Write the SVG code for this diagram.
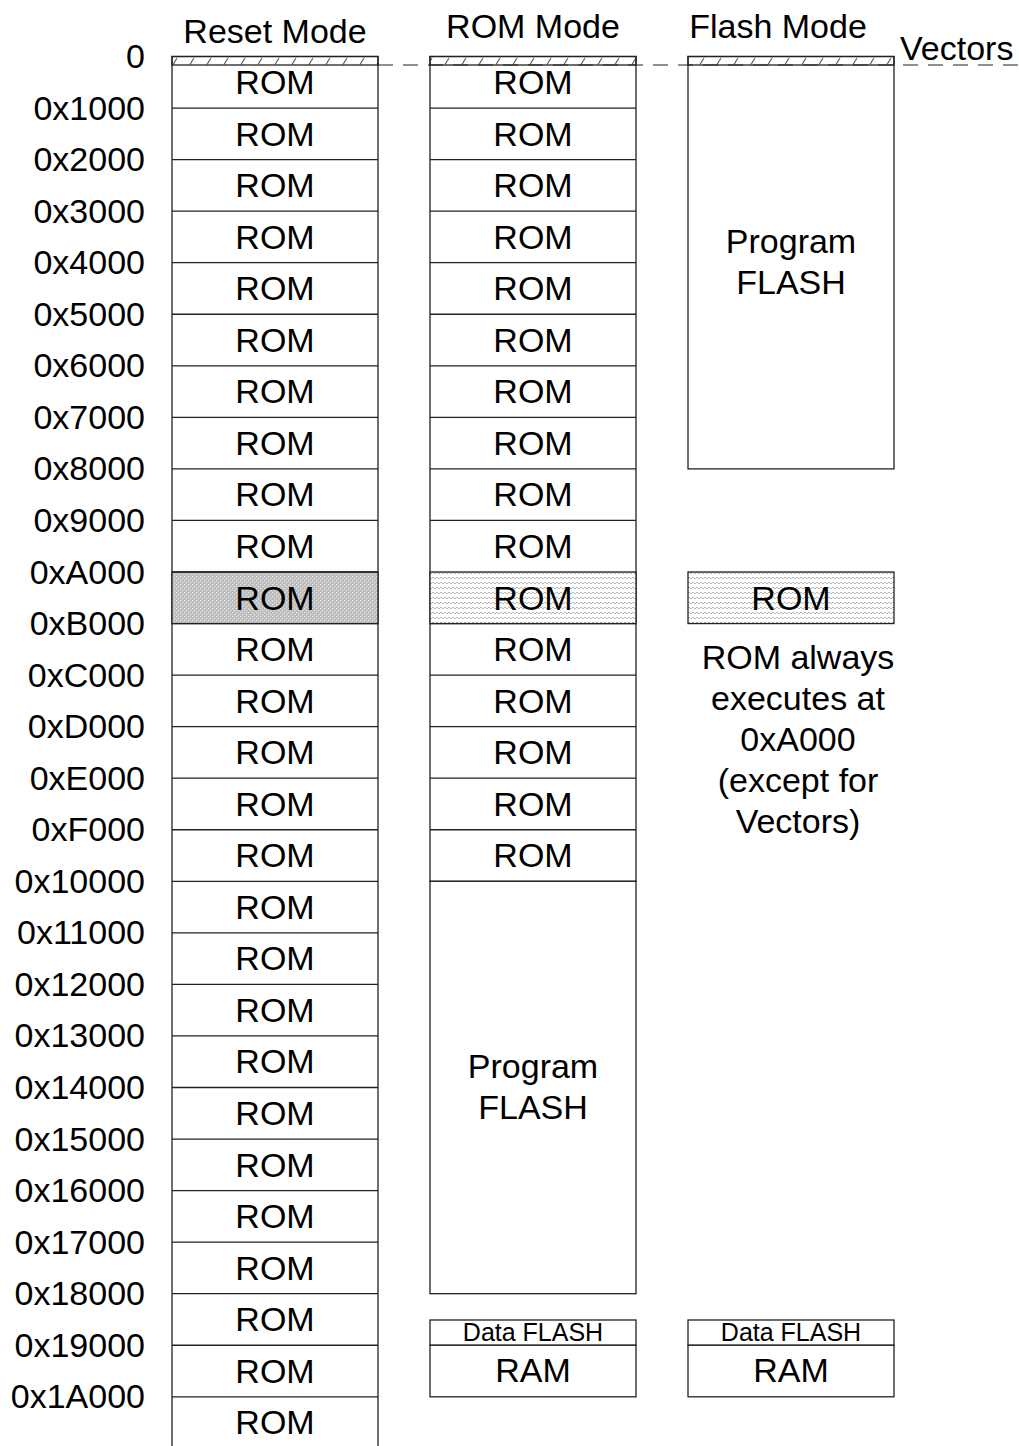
<svg xmlns="http://www.w3.org/2000/svg" width="1019" height="1446" viewBox="0 0 1019 1446">
<style>
text{font-family:"Liberation Sans",Arial,sans-serif;fill:#000}
.t{font-size:34px;text-anchor:middle}
.l{font-size:34px;text-anchor:end}
.s{font-size:25px;text-anchor:middle}
.b{fill:#fff;stroke:#222;stroke-width:1.3}
.ln{stroke:#222;stroke-width:1.3;fill:none}
</style>
<defs>
<pattern id="vec" width="17" height="9" patternUnits="userSpaceOnUse" x="0" y="56.5">
<path d="M3 8 L7 1.5" stroke="#222" stroke-width="1"/>
</pattern>
<pattern id="dots" width="4" height="4" patternUnits="userSpaceOnUse">
<rect width="4" height="4" fill="#bcbcbc"/>
<rect x="0" y="0" width="1.3" height="1.3" fill="#e6e6e6"/>
<rect x="2" y="2" width="1.3" height="1.3" fill="#e6e6e6"/>
</pattern>
<pattern id="wave" width="8" height="5" patternUnits="userSpaceOnUse">
<rect width="8" height="5" fill="#fff"/>
<path d="M0 3 Q1 1 2 3 T4 3 T6 3 T8 3" stroke="#999" stroke-width="0.7" fill="none"/>
</pattern>
</defs>

<g id="titles">
<text class="t" x="275" y="43">Reset Mode</text>
<text class="t" x="533" y="38">ROM Mode</text>
<text class="t" x="778" y="38">Flash Mode</text>
<text x="900" y="60" style="font-size:34px">Vectors</text>
</g>

<g id="addresses">
<text class="l" x="145" y="68">0</text>
<text class="l" x="145" y="119.5">0x1000</text>
<text class="l" x="145" y="171.1">0x2000</text>
<text class="l" x="145" y="222.6">0x3000</text>
<text class="l" x="145" y="274.2">0x4000</text>
<text class="l" x="145" y="325.7">0x5000</text>
<text class="l" x="145" y="377.3">0x6000</text>
<text class="l" x="145" y="428.8">0x7000</text>
<text class="l" x="145" y="480.4">0x8000</text>
<text class="l" x="145" y="531.9">0x9000</text>
<text class="l" x="145" y="583.5">0xA000</text>
<text class="l" x="145" y="635">0xB000</text>
<text class="l" x="145" y="686.6">0xC000</text>
<text class="l" x="145" y="738.1">0xD000</text>
<text class="l" x="145" y="789.7">0xE000</text>
<text class="l" x="145" y="841.2">0xF000</text>
<text class="l" x="145" y="892.8">0x10000</text>
<text class="l" x="145" y="944.3">0x11000</text>
<text class="l" x="145" y="995.9">0x12000</text>
<text class="l" x="145" y="1047.4">0x13000</text>
<text class="l" x="145" y="1099">0x14000</text>
<text class="l" x="145" y="1150.5">0x15000</text>
<text class="l" x="145" y="1202.1">0x16000</text>
<text class="l" x="145" y="1253.6">0x17000</text>
<text class="l" x="145" y="1305.2">0x18000</text>
<text class="l" x="145" y="1356.7">0x19000</text>
<text class="l" x="145" y="1408.3">0x1A000</text>
</g>

<g id="reset-mode">
<rect class="b" x="172" y="56.5" width="206" height="1400"/>
<rect x="172" y="572" width="206" height="51.55" fill="url(#dots)" stroke="#222" stroke-width="1.3"/>
<path class="ln" d="M172 108.05H378M172 159.6H378M172 211.15H378M172 262.7H378M172 314.25H378M172 365.8H378M172 417.35H378M172 468.9H378M172 520.45H378M172 572H378M172 623.55H378M172 675.1H378M172 726.65H378M172 778.2H378M172 829.75H378M172 881.3H378M172 932.85H378M172 984.4H378M172 1035.95H378M172 1087.5H378M172 1139.05H378M172 1190.6H378M172 1242.15H378M172 1293.7H378M172 1345.25H378M172 1396.8H378"/>
<rect x="172" y="56.5" width="206" height="8.5" fill="url(#vec)" stroke="#222" stroke-width="1.3"/>
<text class="t" x="275" y="94">ROM</text>
<text class="t" x="275" y="145.5">ROM</text>
<text class="t" x="275" y="197.1">ROM</text>
<text class="t" x="275" y="248.6">ROM</text>
<text class="t" x="275" y="300.2">ROM</text>
<text class="t" x="275" y="351.7">ROM</text>
<text class="t" x="275" y="403.3">ROM</text>
<text class="t" x="275" y="454.8">ROM</text>
<text class="t" x="275" y="506.4">ROM</text>
<text class="t" x="275" y="557.9">ROM</text>
<text class="t" x="275" y="609.5">ROM</text>
<text class="t" x="275" y="661">ROM</text>
<text class="t" x="275" y="712.6">ROM</text>
<text class="t" x="275" y="764.1">ROM</text>
<text class="t" x="275" y="815.7">ROM</text>
<text class="t" x="275" y="867.2">ROM</text>
<text class="t" x="275" y="918.8">ROM</text>
<text class="t" x="275" y="970.3">ROM</text>
<text class="t" x="275" y="1021.9">ROM</text>
<text class="t" x="275" y="1073.4">ROM</text>
<text class="t" x="275" y="1125">ROM</text>
<text class="t" x="275" y="1176.5">ROM</text>
<text class="t" x="275" y="1228.1">ROM</text>
<text class="t" x="275" y="1279.6">ROM</text>
<text class="t" x="275" y="1331.2">ROM</text>
<text class="t" x="275" y="1382.7">ROM</text>
<text class="t" x="275" y="1434.3">ROM</text>
</g>

<g id="rom-mode">
<rect class="b" x="430" y="56.5" width="206" height="824.8"/>
<rect x="430" y="572" width="206" height="51.55" fill="url(#wave)" stroke="#222" stroke-width="1.3"/>
<path class="ln" d="M430 108.05H636M430 159.6H636M430 211.15H636M430 262.7H636M430 314.25H636M430 365.8H636M430 417.35H636M430 468.9H636M430 520.45H636M430 623.55H636M430 675.1H636M430 726.65H636M430 778.2H636M430 829.75H636"/>
<rect x="430" y="56.5" width="206" height="8.5" fill="url(#vec)" stroke="#222" stroke-width="1.3"/>
<text class="t" x="533" y="94">ROM</text>
<text class="t" x="533" y="145.5">ROM</text>
<text class="t" x="533" y="197.1">ROM</text>
<text class="t" x="533" y="248.6">ROM</text>
<text class="t" x="533" y="300.2">ROM</text>
<text class="t" x="533" y="351.7">ROM</text>
<text class="t" x="533" y="403.3">ROM</text>
<text class="t" x="533" y="454.8">ROM</text>
<text class="t" x="533" y="506.4">ROM</text>
<text class="t" x="533" y="557.9">ROM</text>
<text class="t" x="533" y="609.5">ROM</text>
<text class="t" x="533" y="661">ROM</text>
<text class="t" x="533" y="712.6">ROM</text>
<text class="t" x="533" y="764.1">ROM</text>
<text class="t" x="533" y="815.7">ROM</text>
<text class="t" x="533" y="867.2">ROM</text>
</g>
<g id="rom-mode-program-flash">
<rect class="b" x="430" y="881.3" width="206" height="412.4"/>
<text class="t" x="533" y="1078">Program</text>
<text class="t" x="533" y="1119">FLASH</text>
</g>
<g id="rom-mode-data">
<rect class="b" x="430" y="1320" width="206" height="25.25"/>
<text class="s" x="533" y="1341">Data FLASH</text>
<rect class="b" x="430" y="1345.25" width="206" height="51.55"/>
<text class="t" x="533" y="1382">RAM</text>
</g>

<g id="flash-mode-program-flash">
<rect class="b" x="688" y="56.5" width="206" height="412.4"/>
<rect x="688" y="56.5" width="206" height="8.5" fill="url(#vec)" stroke="#222" stroke-width="1.3"/>
<text class="t" x="791" y="253">Program</text>
<text class="t" x="791" y="294">FLASH</text>
</g>
<g id="flash-mode-rom">
<rect x="688" y="572" width="206" height="51.55" fill="url(#wave)" stroke="#222" stroke-width="1.3"/>
<text class="t" x="791" y="609.5">ROM</text>
</g>
<g id="flash-mode-note">
<text class="t" x="798" y="669">ROM always</text>
<text class="t" x="798" y="710">executes at</text>
<text class="t" x="798" y="751">0xA000</text>
<text class="t" x="798" y="792">(except for</text>
<text class="t" x="798" y="833">Vectors)</text>
</g>
<g id="flash-mode-data">
<rect class="b" x="688" y="1320" width="206" height="25.25"/>
<text class="s" x="791" y="1341">Data FLASH</text>
<rect class="b" x="688" y="1345.25" width="206" height="51.55"/>
<text class="t" x="791" y="1382">RAM</text>
</g>

<g id="connectors">
<path d="M378 65H1019" stroke="#222" stroke-width="1.2" stroke-dasharray="15 10" fill="none"/>
</g>
</svg>
